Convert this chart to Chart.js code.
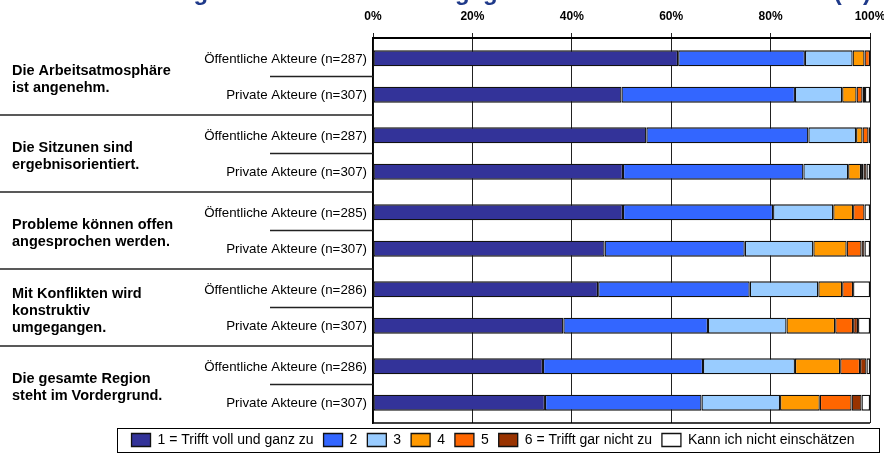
<!DOCTYPE html>
<html lang="de">
<head>
	<meta charset="UTF-8">
	<title>Bewertung der Arbeit</title>
	<script src="https://cdn.jsdelivr.net/npm/chart.js@4/dist/chart.umd.min.js"></script>
	<style>
		body { margin: 0; background: #fff; }
		#wrap { width: 884px; height: 455px; }
	</style>
</head>
<body>

	<div id="wrap"><canvas id="barChart"></canvas></div>

	<script>
	// statements (left labels)
	var aussagen = [
		["Die Arbeitsatmosphäre", "ist angenehm."],
		["Die Sitzunen sind", "ergebnisorientiert."],
		["Probleme können offen", "angesprochen werden."],
		["Mit Konflikten wird", "konstruktiv", "umgegangen."],
		["Die gesamte Region", "steht im Vordergrund."]
	];

	// answer categories
	var stufen = ["1 = Trifft voll und ganz zu", "2", "3", "4", "5", "6 = Trifft gar nicht zu", "Kann ich nicht einschätzen"];
	var farben = ["#333399", "#3366ff", "#99ccff", "#ff9900", "#ff6600", "#993300", "#ffffff"];

	// sample sizes
	var nOeffentlich = [287, 287, 285, 286, 286];
	var nPrivat = [307, 307, 307, 307, 307];

	// percentages, one row per statement, one column per answer category
	var oeffentlich = [
		[61.4, 25.5, 9.6, 2.4, 1.1, 0, 0],
		[55.0, 32.6, 9.6, 1.3, 1.2, 0, 0.3],
		[50.3, 30.2, 12.1, 4.0, 2.3, 0, 1.1],
		[45.3, 30.5, 13.8, 4.8, 2.2, 0, 3.4],
		[34.2, 32.2, 18.5, 9.1, 4.0, 1.3, 0.7]
	];
	var privat = [
		[50.0, 34.9, 9.5, 2.9, 1.2, 0.5, 1.0],
		[50.3, 36.3, 9.0, 2.6, 0.5, 0.6, 0.7],
		[46.6, 28.2, 13.8, 6.7, 3.0, 0.6, 1.1],
		[38.3, 29.1, 15.8, 9.8, 3.6, 1.0, 2.4],
		[34.6, 31.5, 15.8, 8.0, 6.4, 2.0, 1.7]
	];

	var xTicks = [0, 20, 40, 60, 80, 100];
	var titel = "Bewertung der Arbeit im Lenkungsgremium im Urteil der Akteure (%)";

	var schrift = "'Liberation Sans', Arial, sans-serif";

	function spalte(rows, j) {
		var out = [];
		for (var i = 0; i < rows.length; i++) {
			out.push(rows[i][j]);
		}
		return out;
	}

	// one stack for each group of actors, first one sits on top
	var datasets = [];
	var gruppen = [["oeff", oeffentlich], ["priv", privat]];
	for (var g = 0; g < gruppen.length; g++) {
		for (var j = 0; j < stufen.length; j++) {
			datasets.push({
				label: stufen[j],
				data: spalte(gruppen[g][1], j),
				stack: gruppen[g][0],
				backgroundColor: farben[j],
				borderColor: "#111",
				borderWidth: 1.3,
				borderSkipped: false
			});
		}
	}

	// labels, separators, frame and title around the plot
	var beschriftung = {
		id: "beschriftung",
		afterDraw: function(chart) {
			var ctx = chart.ctx;
			var area = chart.chartArea;
			var y = chart.scales.y;
			var oben = chart.getDatasetMeta(0).data;
			var unten = chart.getDatasetMeta(stufen.length).data;

			ctx.save();

			// title, only its lowest part is on the canvas
			ctx.fillStyle = "#1f3a8a";
			ctx.font = "bold 24px " + schrift;
			ctx.textAlign = "right";
			ctx.textBaseline = "alphabetic";
			ctx.fillText(titel, 871, -0.5);

			ctx.fillStyle = "#000";
			ctx.strokeStyle = "#222";
			ctx.lineWidth = 1.5;

			for (var i = 0; i < aussagen.length; i++) {
				var mitte = y.getPixelForValue(i);

				// group names
				ctx.font = "13.3px " + schrift;
				ctx.textAlign = "right";
				ctx.textBaseline = "middle";
				ctx.fillText("Öffentliche Akteure (n=" + nOeffentlich[i] + ")", area.left - 6, oben[i].y + 1);
				ctx.fillText("Private Akteure (n=" + nPrivat[i] + ")", area.left - 6, unten[i].y + 1);

				// statement text
				var zeilen = aussagen[i];
				ctx.font = "bold 14.5px " + schrift;
				ctx.textAlign = "left";
				var start = mitte + 3 - (zeilen.length - 1) * 17 / 2;
				for (var k = 0; k < zeilen.length; k++) {
					ctx.fillText(zeilen[k], 12, start + k * 17);
				}

				// short line between the two bars
				ctx.beginPath();
				ctx.moveTo(270, mitte);
				ctx.lineTo(area.left, mitte);
				ctx.stroke();

				// long line between statements
				if (i < aussagen.length - 1) {
					var grenze = (mitte + y.getPixelForValue(i + 1)) / 2;
					ctx.beginPath();
					ctx.moveTo(0, grenze);
					ctx.lineTo(area.left, grenze);
					ctx.stroke();
				}
			}

			// bottom of the frame
			ctx.strokeStyle = "#000";
			ctx.lineWidth = 1.5;
			ctx.beginPath();
			ctx.moveTo(area.left, area.bottom);
			ctx.lineTo(area.right, area.bottom);
			ctx.stroke();

			// box around legend
			ctx.lineWidth = 1;
			ctx.strokeRect(117.5, area.bottom + 5.5, 762, 24);

			ctx.restore();
		}
	};

	var ctx = document.getElementById("barChart").getContext("2d");

	var chart = new Chart(ctx, {
		type: "bar",
		data: {
			labels: aussagen.map(function(a) { return a.join(" "); }),
			datasets: datasets
		},
		options: {
			indexAxis: "y",
			responsive: true,
			maintainAspectRatio: false,
			animation: false,
			categoryPercentage: 0.943,
			barPercentage: 0.44,
			layout: {
				padding: { left: 116, right: 14, top: 0, bottom: -2 }
			},
			scales: {
				x: {
					position: "top",
					stacked: true,
					min: 0,
					max: 100,
					afterFit: function(s) {
						s.height = 38;
						s.paddingLeft = 0;
						s.paddingRight = 0;
					},
					afterBuildTicks: function(s) {
						s.ticks = xTicks.map(function(v) { return { value: v }; });
					},
					ticks: {
						callback: function(v) { return v + "%"; },
						color: "#000",
						font: { family: schrift, size: 12, weight: "bold" },
						padding: 9,
						maxRotation: 0
					},
					grid: {
						color: "#222",
						lineWidth: 1,
						tickLength: 5,
						drawTicks: true
					},
					border: { display: true, color: "#000", width: 2 }
				},
				y: {
					stacked: true,
					afterFit: function(s) { s.width = 257; },
					ticks: { display: false },
					grid: { display: false },
					border: { display: true, color: "#000", width: 1.5 }
				}
			},
			plugins: {
				tooltip: { enabled: false },
				legend: {
					position: "bottom",
					labels: {
						filter: function(item) { return item.datasetIndex < stufen.length; },
						boxWidth: 19,
						boxHeight: 13,
						padding: 10,
						color: "#000",
						font: { family: schrift, size: 14 }
					}
				}
			}
		},
		plugins: [beschriftung]
	});
	</script>

</body>
</html>
